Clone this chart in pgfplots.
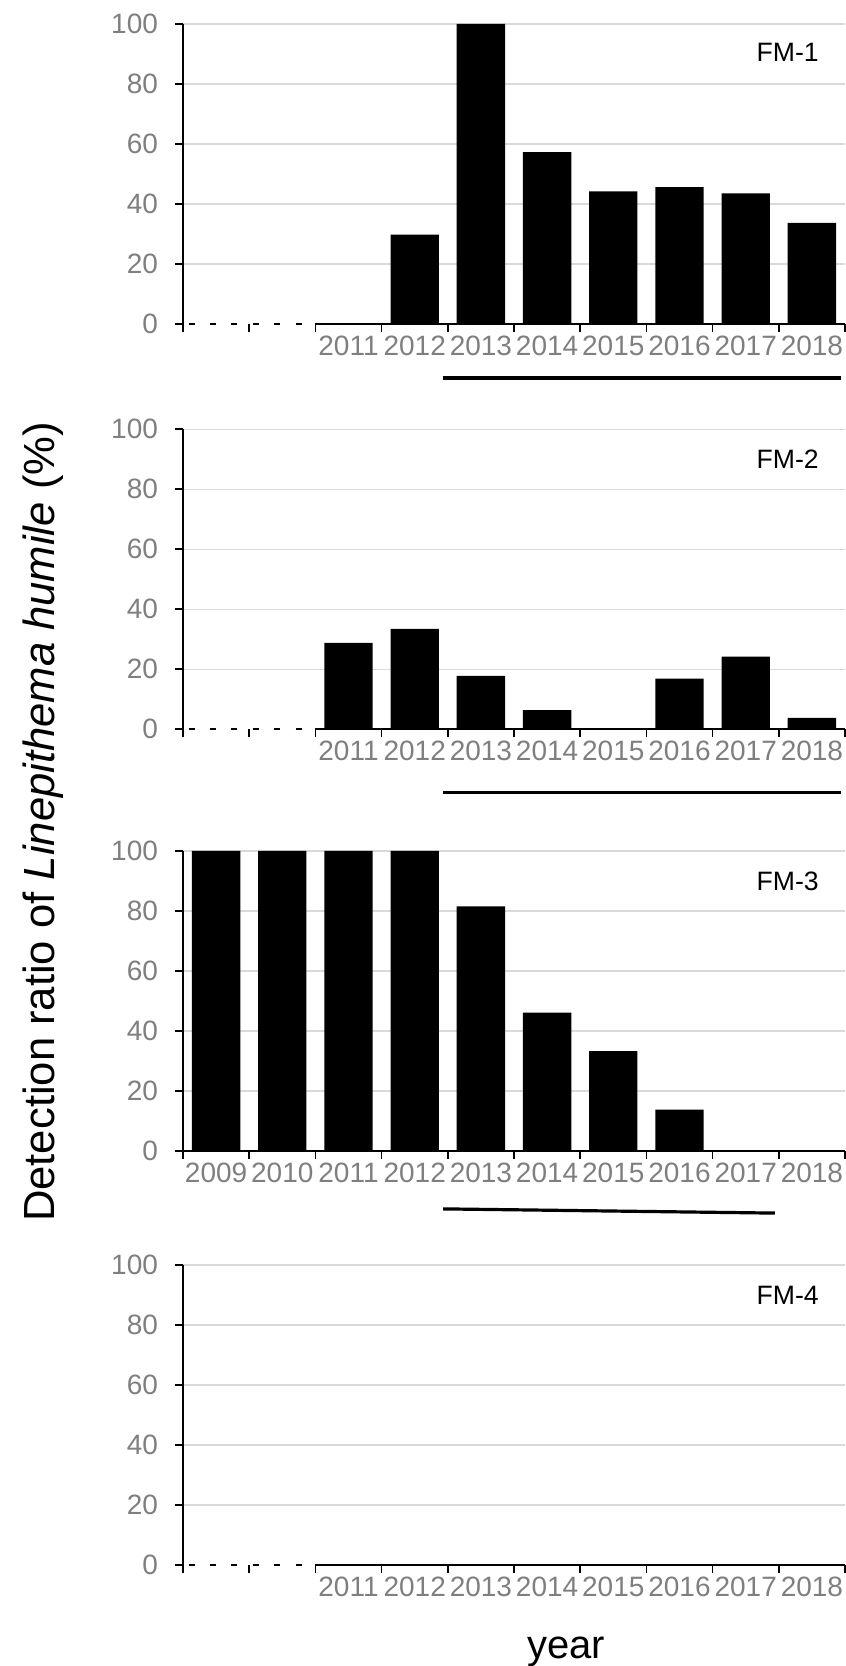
\documentclass[border=0pt]{standalone}
\usepackage{fontspec}
\setmainfont{Liberation Sans}
\usepackage{pgfplots}
\pgfplotsset{compat=1.18}
\definecolor{gridc}{HTML}{D9D9D9}
\definecolor{tickc}{HTML}{7F7F7F}
\tikzset{
  dashedaxis/.style={black, line width=1pt, dash pattern=on 3pt off 7.7pt, dash phase=7.9pt},
  solidaxis/.style={black, line width=0.9pt},
  sigline/.style={black, line width=1.6pt},
  fmlabel/.style={anchor=east, font=\fontsize{13.3}{13.3}\selectfont},
}
\pgfplotsset{
  panel/.style={
    scale only axis, width=331pt, height=150pt,
    anchor=south west,
    xmin=-0.5, xmax=9.5, ymin=0, ymax=100,
    axis lines*=left,
    clip=false,
    x axis line style={draw=none},
    y axis line style={line width=0.8pt},
    tick align=outside,
    ytick={20,40,60,80,100},
    extra y ticks={0},
    extra y tick style={grid=none},
    ymajorgrids,
    grid style={gridc, line width=0.7pt},
    major tick length=4pt,
    minor tick length=4pt,
    tick style={black, line width=0.8pt},
    xtick={0,...,9},
    major x tick style={draw=none},
    minor xtick={-0.5,0.5,...,9.5},
    every tick label/.append style={font=\fontsize{14}{14}\selectfont, text=tickc},
    /pgf/number format/assume math mode=true,
    yticklabel style={xshift=-5pt},
    xticklabel style={yshift=1.5pt},
  },
  bars/.style={ybar, bar width=0.73, fill=black, draw=none},
}
\begin{document}
\begin{tikzpicture}
\path[use as bounding box] (0,0) rectangle (423pt,833pt);
% FM-1
\begin{axis}[panel, at={(91.5pt,671pt)},
  xticklabels={,,2011,2012,2013,2014,2015,2016,2017,2018}]
\addplot[bars] coordinates {(2,0) (3,29.8) (4,100) (5,57.3) (6,44.2) (7,45.6) (8,43.5) (9,33.7)};
\draw[dashedaxis] (axis cs:-0.5,0) -- (axis cs:1.5,0);
\draw[solidaxis] (axis cs:1.5,0) -- (axis cs:9.5,0);
\draw[sigline] (axis cs:3.42,-18) -- (axis cs:9.44,-18);
\node[fmlabel] at (rel axis cs:0.971,0.905) {FM-1};
\end{axis}
% FM-2
\begin{axis}[panel, at={(91.5pt,468.35pt)},
  xticklabels={,,2011,2012,2013,2014,2015,2016,2017,2018}]
\addplot[bars] coordinates {(2,28.8) (3,33.5) (4,17.8) (5,6.4) (6,0) (7,16.9) (8,24.2) (9,3.8)};
\draw[dashedaxis] (axis cs:-0.5,0) -- (axis cs:1.5,0);
\draw[solidaxis] (axis cs:1.5,0) -- (axis cs:9.5,0);
\draw[sigline] (axis cs:3.42,-21) -- (axis cs:9.44,-21);
\node[fmlabel] at (rel axis cs:0.971,0.9) {FM-2};
\end{axis}
% FM-3
\begin{axis}[panel, at={(91.5pt,257.5pt)},
  xticklabels={2009,2010,2011,2012,2013,2014,2015,2016,2017,2018}]
\addplot[bars] coordinates {(0,100) (1,100) (2,100) (3,100) (4,81.5) (5,46.1) (6,33.3) (7,13.8) (8,0) (9,0)};
\draw[solidaxis] (axis cs:-0.5,0) -- (axis cs:9.5,0);
\draw[sigline] (axis cs:3.43,-19.3) -- (axis cs:8.44,-20.7);
\node[fmlabel] at (rel axis cs:0.971,0.9) {FM-3};
\end{axis}
% FM-4
\begin{axis}[panel, at={(91.5pt,50.5pt)},
  xticklabels={,,2011,2012,2013,2014,2015,2016,2017,2018}]
\addplot[bars] coordinates {(2,0) (3,0) (4,0) (5,0) (6,0) (7,0) (8,0) (9,0)};
\draw[dashedaxis] (axis cs:-0.5,0) -- (axis cs:1.5,0);
\draw[solidaxis] (axis cs:1.5,0) -- (axis cs:9.5,0);
\node[fmlabel] at (rel axis cs:0.971,0.9) {FM-4};
\end{axis}
\node[rotate=90, anchor=center, font=\fontsize{21.8}{21.8}\selectfont] at (21.5pt,422pt) {Detection ratio of \textit{Linepithema humile} (\%)};
\node[anchor=base, font=\fontsize{20}{20}\selectfont] at (283pt,4pt) {year};
\end{tikzpicture}
\end{document}
